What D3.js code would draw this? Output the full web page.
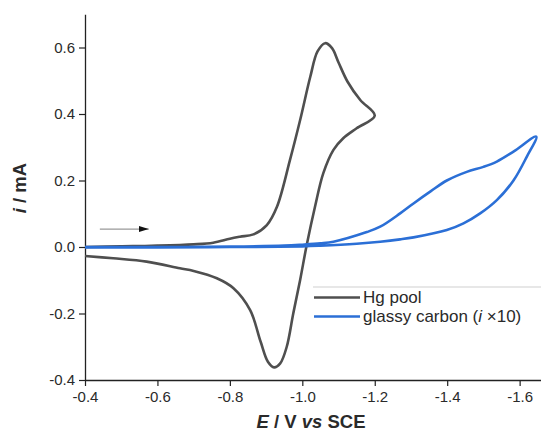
<!DOCTYPE html>
<html>
<head>
<meta charset="utf-8">
<script src="https://cdn.jsdelivr.net/npm/d3@7"></script>
<style>
  html, body { margin: 0; padding: 0; background: #fff; }
  svg { display: block; font-family: "Liberation Sans", Arial, sans-serif; }
</style>
</head>
<body>
<svg id="chart" width="541" height="435"></svg>
<script>
// ---- Data ----
// Hg pool: potential (V vs SCE) and current (mA), forward then reverse scan
const hgE = [-0.40, -0.50, -0.60, -0.70, -0.754, -0.80, -0.828, -0.865, -0.902, -0.93, -0.966, -0.994, -1.022, -1.042, -1.063, -1.082, -1.10, -1.125, -1.16, -1.20,
             -1.15, -1.113, -1.086, -1.058, -1.035, -1.012, -0.994, -0.975, -0.957, -0.939, -0.922, -0.905, -0.885, -0.856, -0.81, -0.764, -0.70, -0.662, -0.57, -0.478, -0.40];
const hgI = [0.000, 0.002, 0.004, 0.008, 0.013, 0.025, 0.031, 0.038, 0.066, 0.121, 0.262, 0.382, 0.512, 0.588, 0.613, 0.598, 0.555, 0.497, 0.442, 0.395,
             0.357, 0.327, 0.292, 0.222, 0.121, 0.005, -0.099, -0.200, -0.300, -0.350, -0.362, -0.345, -0.285, -0.190, -0.124, -0.094, -0.072, -0.064, -0.044, -0.034, -0.027];
// Glassy carbon: current multiplied by 10
const gcE = [-0.40, -0.60, -0.80, -0.95, -1.00, -1.05, -1.086, -1.178, -1.215, -1.27, -1.307, -1.355, -1.399, -1.454, -1.50, -1.537, -1.583, -1.646,
             -1.62, -1.583, -1.537, -1.491, -1.445, -1.399, -1.307, -1.27, -1.215, -1.15, -1.05, -1.00, -0.80, -0.60, -0.40];
const gcI = [0.000, 0.000, 0.001, 0.004, 0.007, 0.011, 0.016, 0.045, 0.061, 0.101, 0.131, 0.168, 0.200, 0.226, 0.241, 0.257, 0.287, 0.332,
             0.272, 0.200, 0.141, 0.101, 0.071, 0.051, 0.029, 0.023, 0.016, 0.010, 0.004, 0.002, 0.000, -0.001, -0.001];

const xMajorTicks = [-0.4, -0.6, -0.8, -1.0, -1.2, -1.4, -1.6];
const xMinorTicks = [-0.5, -0.7, -0.9, -1.1, -1.3, -1.5];
const yMajorTicks = [-0.4, -0.2, 0.0, 0.2, 0.4, 0.6];
const yMinorTicks = [-0.3, -0.1, 0.1, 0.3, 0.5, 0.7];

const seriesNames = ["Hg pool", "glassy carbon (i \u00d710)"];
const arrowE = [-0.441, -0.576];
const arrowI = 0.054;

// ---- Layout ----
const svg = d3.select("#chart");
const x = d3.scaleLinear().domain([-0.4, -1.659]).range([85, 541]);
const y = d3.scaleLinear().domain([-0.4, 0.7]).range([380, 14.25]);

const axisColor = "#222";
const textColor = "#2a2a2a";
const hgColor = "#4f4f4f";
const gcColor = "#2b6fd6";

// Axes
const gx = svg.append("g").attr("transform", "translate(0,380)");
gx.call(d3.axisBottom(x).tickValues(xMinorTicks).tickSize(3).tickSizeOuter(0).tickFormat(""));
gx.call(d3.axisBottom(x).tickValues(xMajorTicks).tickSize(6).tickSizeOuter(0).tickPadding(5).tickFormat(d3.format(".1f")));

const gy = svg.append("g").attr("transform", "translate(85,0)");
gy.call(d3.axisLeft(y).tickValues(yMinorTicks).tickSize(3).tickSizeOuter(0).tickFormat(""));
gy.call(d3.axisLeft(y).tickValues(yMajorTicks).tickSize(6).tickSizeOuter(0).tickPadding(4).tickFormat(d3.format(".1f")));

svg.selectAll(".domain").attr("stroke", axisColor).attr("stroke-width", 1.3);
svg.selectAll(".tick line").attr("stroke", axisColor).attr("stroke-width", 1.2);
svg.selectAll(".tick text").attr("font-size", 15).attr("fill", textColor)
   .attr("font-family", "'Liberation Sans', Arial, sans-serif")
   .text(function(){ return this.textContent.replace("\u2212", "-"); });

// Curves
const line = d3.line().x(d => x(d[0])).y(d => y(d[1])).curve(d3.curveCatmullRom.alpha(0.5));
const hgData = hgE.map((e, i) => [e, hgI[i]]);
const gcData = gcE.map((e, i) => [e, gcI[i]]);

svg.append("path").datum(hgData).attr("d", line)
   .attr("fill", "none").attr("stroke", hgColor).attr("stroke-width", 2.6).attr("stroke-linejoin", "round");
svg.append("path").datum(gcData).attr("d", line)
   .attr("fill", "none").attr("stroke", gcColor).attr("stroke-width", 2.6).attr("stroke-linejoin", "round");

// Arrow annotation
svg.append("defs").append("marker")
   .attr("id", "ah").attr("viewBox", "0 0 10 6").attr("refX", 10).attr("refY", 3)
   .attr("markerWidth", 10).attr("markerHeight", 6).attr("markerUnits", "userSpaceOnUse")
   .attr("orient", "auto")
   .append("path").attr("d", "M0,0 L10,3 L0,6 Z").attr("fill", "#111");
svg.append("line")
   .attr("x1", x(arrowE[0])).attr("x2", x(arrowE[1]))
   .attr("y1", y(arrowI)).attr("y2", y(arrowI))
   .attr("stroke", "#999").attr("stroke-width", 1.2).attr("marker-end", "url(#ah)");

// Legend
const lg = svg.append("g");
lg.append("line").attr("x1", 313).attr("x2", 541).attr("y1", 287).attr("y2", 287)
  .attr("stroke", "#cfcfcf").attr("stroke-width", 1);
const legColors = [hgColor, gcColor];
seriesNames.forEach((name, i) => {
  const yy = 297.5 + i * 19;
  lg.append("line").attr("x1", 314).attr("x2", 360).attr("y1", yy).attr("y2", yy)
    .attr("stroke", legColors[i]).attr("stroke-width", 2.4);
  const t = lg.append("text").attr("x", 363).attr("y", yy + 5.5)
    .attr("font-size", 17).attr("fill", textColor);
  if (i === 0) {
    t.text(name);
  } else {
    t.append("tspan").text("glassy carbon (");
    t.append("tspan").attr("font-style", "italic").text("i");
    t.append("tspan").text(" \u00d710)");
  }
});

// Axis titles
const xt = svg.append("text").attr("x", 311).attr("y", 428).attr("text-anchor", "middle")
  .attr("font-size", 18.5).attr("font-weight", "bold").attr("fill", textColor);
xt.append("tspan").attr("font-style", "italic").text("E");
xt.append("tspan").text(" / V ");
xt.append("tspan").attr("font-style", "italic").text("vs");
xt.append("tspan").text(" SCE");

const yt = svg.append("text").attr("transform", "translate(26,188) rotate(-90)")
  .attr("text-anchor", "middle").attr("font-size", 18.5).attr("font-weight", "bold").attr("fill", textColor);
yt.append("tspan").attr("font-style", "italic").text("i");
yt.append("tspan").text(" / mA");
</script>
</body>
</html>
